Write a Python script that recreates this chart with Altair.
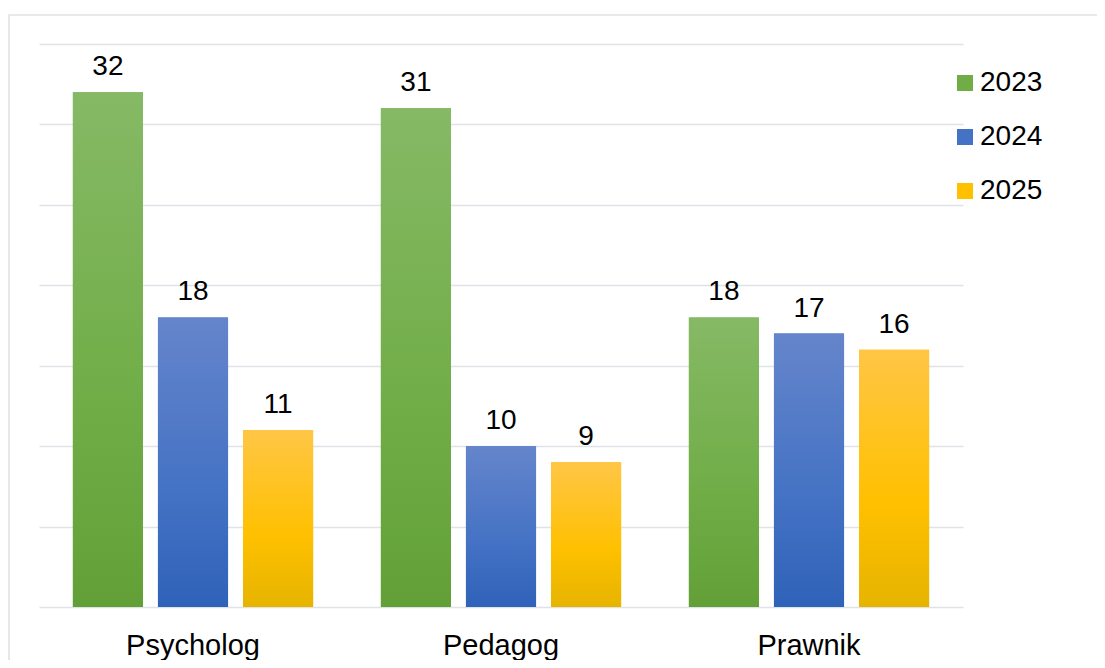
import altair as alt
import pandas as pd

categories = ["Psycholog", "Pedagog", "Prawnik"]
years = ["2023", "2024", "2025"]
v2023 = [32, 31, 18]
v2024 = [18, 10, 17]
v2025 = [11, 9, 16]

solid = ["#70AD47", "#4472C4", "#FFC000"]
grad_stops = {
    "2023": ["#86B965", "#70AD47", "#62A037"],
    "2024": ["#6585CB", "#4472C4", "#2F62B9"],
    "2025": ["#FFC646", "#FFC000", "#E6B400"],
}

rows = []
for y, vals in zip(years, [v2023, v2024, v2025]):
    for c, v in zip(categories, vals):
        rows.append({"cat": c, "year": y, "value": v})
df = pd.DataFrame(rows)

FONT = "Liberation Sans"

x_enc = alt.X("cat:N", sort=categories, title=None,
              scale=alt.Scale(paddingInner=0.22, paddingOuter=0.11),
              axis=alt.Axis(labelFontSize=29, labelColor="#000000", labelFont=FONT,
                            domain=False, ticks=False, labelPadding=24, labelAngle=0))
xo_enc = alt.XOffset("year:N", sort=years,
                     scale=alt.Scale(domain=years, paddingInner=0.176, paddingOuter=0))
y_enc = alt.Y("value:Q", title=None,
              scale=alt.Scale(domain=[0, 35], nice=False),
              axis=alt.Axis(values=[0, 5, 10, 15, 20, 25, 30, 35], labels=False,
                            ticks=False, domain=False, grid=True,
                            gridColor="#DFE2E7", gridWidth=1.6))

base = alt.Chart(df)

solid_layer = base.mark_bar().encode(
    x=x_enc, xOffset=xo_enc, y=y_enc,
    color=alt.Color("year:N", sort=years,
                    scale=alt.Scale(domain=years, range=solid),
                    legend=alt.Legend(title=None, orient="none", legendX=912, legendY=25,
                                      symbolType="square", symbolSize=256,
                                      symbolStrokeWidth=0, labelFontSize=28,
                                      labelFont=FONT, labelColor="#000000",
                                      labelOffset=1, rowPadding=26, padding=0)),
)

grad_layers = []
for y in years:
    s = grad_stops[y]
    g = alt.Gradient(gradient="linear", x1=0, x2=0, y1=0, y2=1,
                     stops=[alt.GradientStop(offset=0, color=s[0]),
                            alt.GradientStop(offset=0.6, color=s[1]),
                            alt.GradientStop(offset=1, color=s[2])])
    grad_layers.append(
        base.transform_filter(alt.datum.year == y)
        .mark_bar(fill=g, stroke="transparent")
        .encode(x=x_enc, xOffset=xo_enc, y=y_enc)
    )

labels = base.mark_text(fontSize=28, font=FONT, color="#000000", dy=-17,
                        baseline="alphabetic").encode(
    x=x_enc, xOffset=xo_enc, y=y_enc, text=alt.Text("value:Q"))

border = alt.Chart(pd.DataFrame({"a": [0]})).mark_rect(
    fill="transparent", stroke="#DFE2E7", strokeWidth=1.6).encode(
    x=alt.value(-30), x2=alt.value(1090), y=alt.value(-29), y2=alt.value(660))

chart = alt.layer(border, solid_layer, *grad_layers, labels).properties(
    width=924, height=563,
    background="#FFFFFF",
    autosize=alt.AutoSizeParams(type="none"),
    padding={"left": 31, "top": 36, "right": 134, "bottom": 53},
).configure_view(strokeWidth=0, stroke="transparent")

chart.save("out.html", embed_options={"renderer": "svg", "actions": False})
